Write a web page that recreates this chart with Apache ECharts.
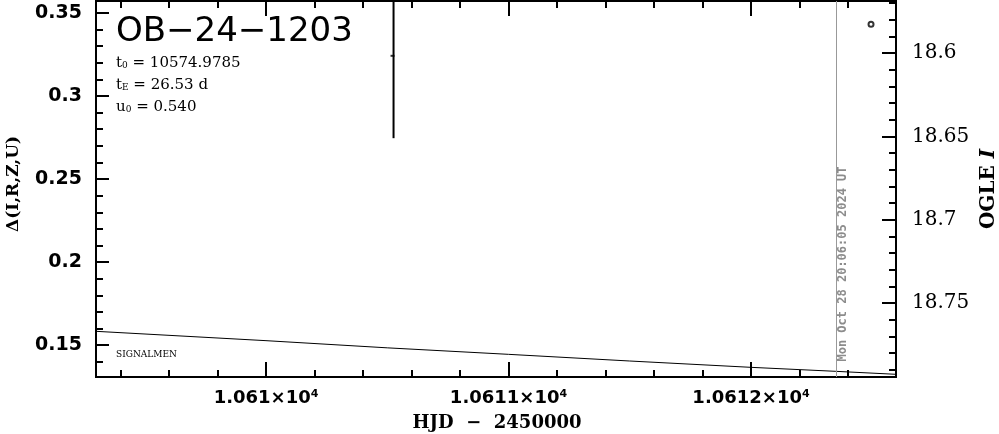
<!DOCTYPE html>
<html><head><meta charset="utf-8">
<script src="https://cdn.jsdelivr.net/npm/echarts@6/dist/echarts.min.js"></script>
<style>html,body{margin:0;padding:0;background:#fff}#c{width:999px;height:434px}</style>
</head><body><div id="c"></div>
<script>
// ---- data ----
const xMajorTicks = [10610, 10611, 10612];
const leftMajorTicks = [0.15, 0.2, 0.25, 0.3, 0.35];
const rightMajorTicks = [18.6, 18.65, 18.7, 18.75];
const xRange = [10609.299, 10612.598];
const leftRange = [0.1308, 0.3572];
const rightRange = [18.5687, 18.7943];

const modelHJD = [10609.30, 10610.0, 10610.5, 10611.0, 10611.5, 10612.0, 10612.35, 10612.6];
const modelMag = [18.7669, 18.7725, 18.7768, 18.7807, 18.7847, 18.7885, 18.7909, 18.7927];

const errHJD = [10610.526, 10610.526];
const errDelta = [0.2746, 0.40];
const errCenter = [0.3242];

const pointHJD = [10612.495];
const pointMag = [18.5827];

const dateLineHJD = 10612.348;
const dateText = 'Mon Oct 28 20:06:05 2024 UT';

const titleText = 'OB\u221224\u22121203';
const paramT0 = '10574.9785';
const paramTE = '26.53 d';
const paramU0 = '0.540';

// ---- helpers ----
function steps(a, b, s) { const out = []; const n = Math.round((b - a) / s); for (let i = 0; i <= n; i++) out.push(+(a + i * s).toFixed(6)); return out; }
const xMinor = steps(10609.4, 10612.4, 0.2);
const leftMinor = steps(0.14, 0.35, 0.01);
const rightMinor = steps(18.57, 18.79, 0.01);

const chart = echarts.init(document.getElementById('c'));
const black = '#000';
function xAx(pos, ticks, len, labels) {
  return {
    type: 'value', position: pos, min: xRange[0], max: xRange[1], gridIndex: 0,
    axisLine: { show: true, onZero: false, lineStyle: { color: black, width: 2 } },
    axisTick: { show: true, inside: true, length: len, customValues: ticks, lineStyle: { color: black, width: 2 } },
    axisLabel: labels ? {
      show: true, margin: 12, customValues: ticks,
      formatter: v => '{a|' + parseFloat((v / 1e4).toFixed(5)).toString() + '\u00d710}{s|4}',
      rich: { a: { fontFamily: 'DejaVu Sans', fontWeight: 'bold', fontSize: 18, color: black },
              s: { fontFamily: 'DejaVu Sans', fontWeight: 'bold', fontSize: 11, color: black, verticalAlign: 'top', padding: [0, 0, 8, 0] } }
    } : { show: false },
    splitLine: { show: false }
  };
}
function yAx(pos, rng, inv, ticks, len, labels, font, margin) {
  return {
    type: 'value', position: pos, min: rng[0], max: rng[1], inverse: inv, gridIndex: 0,
    axisLine: { show: true, onZero: false, lineStyle: { color: black, width: 2 } },
    axisTick: { show: true, inside: true, length: len, customValues: ticks, lineStyle: { color: black, width: 2 } },
    axisLabel: labels ? { show: true, customValues: ticks, margin: margin, color: black, fontFamily: font.f, fontWeight: font.w, fontSize: font.s,
      formatter: v => String(+v.toFixed(4)) } : { show: false },
    splitLine: { show: false }
  };
}
const paramRich = {
  a: { fontFamily: 'DejaVu Serif', fontSize: 15, fill: black },
  s: { fontFamily: 'DejaVu Serif', fontSize: 9, fill: black, verticalAlign: 'bottom' }
};

const option = {
  animation: false,
  backgroundColor: '#fff',
  grid: { left: 96, right: 103, top: 1, bottom: 57, containLabel: false },
  xAxis: [
    xAx('bottom', xMajorTicks, 15, true),
    xAx('bottom', xMinor, 7, false),
    xAx('top', xMajorTicks, 15, false),
    xAx('top', xMinor, 7, false)
  ],
  yAxis: [
    yAx('left', leftRange, false, leftMajorTicks, 13, true, { f: 'DejaVu Sans', w: 'bold', s: 19 }, 14),
    yAx('left', leftRange, false, leftMinor, 7, false),
    yAx('right', rightRange, true, rightMajorTicks, 14, true, { f: 'DejaVu Serif', w: 'normal', s: 20 }, 16),
    yAx('right', rightRange, true, rightMinor, 7, false)
  ],
  series: [
    {
      type: 'line', name: 'model', xAxisIndex: 0, yAxisIndex: 2,
      data: modelHJD.map((x, i) => [x, modelMag[i]]),
      showSymbol: false, symbol: 'none', lineStyle: { color: black, width: 1 }, silent: true,
      markLine: {
        silent: true, symbol: 'none', label: { show: false },
        lineStyle: { color: '#999', width: 1, type: 'solid' },
        data: [{ xAxis: dateLineHJD }]
      }
    },
    {
      type: 'line', name: 'errorbar', xAxisIndex: 0, yAxisIndex: 0,
      data: errHJD.map((x, i) => [x, errDelta[i]]),
      showSymbol: false, symbol: 'none', lineStyle: { color: black, width: 2 }, clip: true
    },
    {
      type: 'scatter', name: 'errcenter', xAxisIndex: 0, yAxisIndex: 0,
      data: errCenter.map(v => [errHJD[0], v]),
      symbol: 'rect', symbolSize: [4, 2], symbolOffset: [-1, 0], itemStyle: { color: black }
    },
    {
      type: 'scatter', name: 'OGLE', xAxisIndex: 0, yAxisIndex: 2,
      data: pointHJD.map((x, i) => [x, pointMag[i]]),
      symbol: 'circle', symbolSize: 5,
      itemStyle: { color: '#fff', borderColor: black, borderWidth: 2 }
    }
  ],
  graphic: [
    { type: 'text', x: 116, y: 32, style: { text: titleText, font: '34px "DejaVu Sans"', fill: black, verticalAlign: 'middle' } },
    { type: 'text', x: 116, y: 63, style: { text: '{a|t}{s|0}{a| = ' + paramT0 + '}', verticalAlign: 'middle', rich: paramRich } },
    { type: 'text', x: 116, y: 85, style: { text: '{a|t}{s|E}{a| = ' + paramTE + '}', verticalAlign: 'middle', rich: paramRich } },
    { type: 'text', x: 116, y: 107, style: { text: '{a|u}{s|0}{a| = ' + paramU0 + '}', verticalAlign: 'middle', rich: paramRich } },
    { type: 'text', x: 116, y: 355, style: { text: 'SIGNALMEN', font: '9px "DejaVu Serif"', fill: black, verticalAlign: 'middle' } },
    { type: 'text', x: 14, y: 184, rotation: Math.PI / 2, style: { text: '\u0394(I,R,Z,U)', font: 'bold 17px "DejaVu Serif"', fill: black, align: 'center', verticalAlign: 'middle' } },
    { type: 'text', x: 989, y: 189, rotation: Math.PI / 2, style: { text: '{a|OGLE }{i|I}', align: 'center', verticalAlign: 'middle',
        rich: { a: { fontFamily: 'DejaVu Serif', fontWeight: 'bold', fontSize: 20, fill: black }, i: { fontFamily: 'DejaVu Serif', fontStyle: 'italic', fontWeight: 'bold', fontSize: 20, fill: black } } } },
    { type: 'text', x: 497, y: 423, style: { text: 'HJD  \u2212  2450000', font: 'bold 18px "DejaVu Serif"', fill: black, align: 'center', verticalAlign: 'middle' } },
    { type: 'text', x: 843, y: 264, rotation: Math.PI / 2, style: { text: dateText, font: 'bold 12px "DejaVu Sans Mono"', fill: '#8c8c8c', align: 'center', verticalAlign: 'middle' } }
  ]
};
chart.setOption(option);
</script></body></html>
